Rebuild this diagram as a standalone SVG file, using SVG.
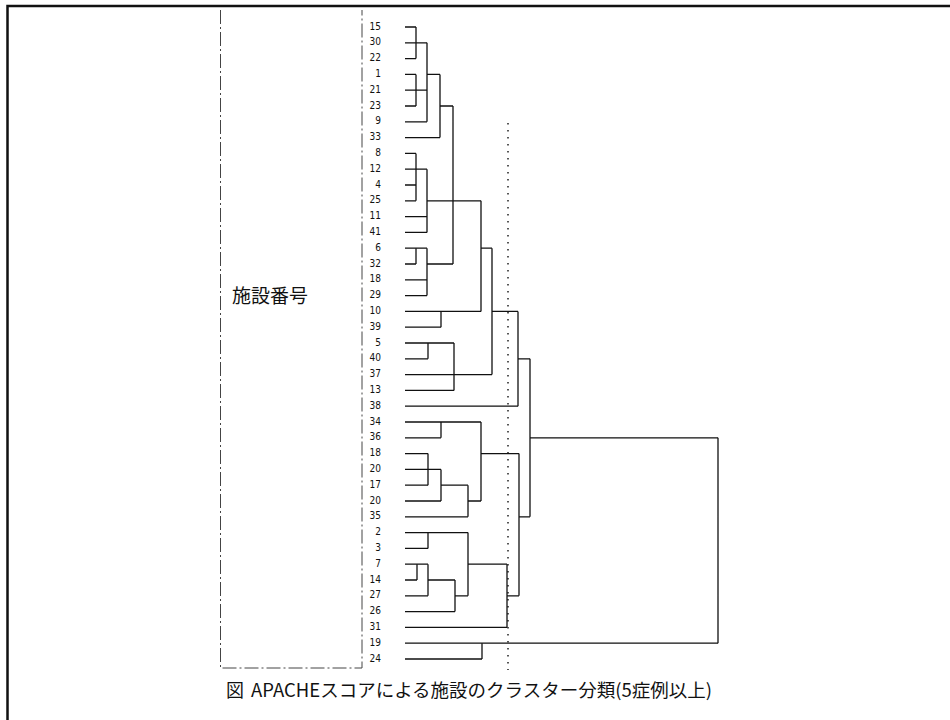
<svg xmlns="http://www.w3.org/2000/svg" width="950" height="720" viewBox="0 0 950 720">
<style>
.lbl{font-family:"DejaVu Sans Condensed","DejaVu Sans",sans-serif;font-size:10px;fill:#111;text-anchor:end}
.tr{fill:none;stroke:#111;stroke-width:1.3}
.cap{font-family:"Noto Sans CJK JP","Noto Sans",sans-serif;fill:#111}
</style>
<rect width="950" height="720" fill="#fff"/>
<path d="M7.5,720 V6 H950" fill="none" stroke="#111" stroke-width="2.5"/>
<path d="M220.5,10 V668 H362 V10" fill="none" stroke="#444" stroke-width="1" stroke-dasharray="14 3 2 3"/>
<text class="cap" x="232" y="303" font-size="19">施設番号</text>
<g id="leaves">
<g id="n15"><text class="lbl" x="381" y="29.5">15</text></g>
<g id="n30"><text class="lbl" x="381" y="45.3">30</text></g>
<g id="n22"><text class="lbl" x="381" y="61.1">22</text></g>
<g id="n1"><text class="lbl" x="381" y="76.9">1</text></g>
<g id="n21"><text class="lbl" x="381" y="92.7">21</text></g>
<g id="n23"><text class="lbl" x="381" y="108.5">23</text></g>
<g id="n9"><text class="lbl" x="381" y="124.3">9</text></g>
<g id="n33"><text class="lbl" x="381" y="140.1">33</text></g>
<g id="n8"><text class="lbl" x="381" y="155.9">8</text></g>
<g id="n12"><text class="lbl" x="381" y="171.7">12</text></g>
<g id="n4"><text class="lbl" x="381" y="187.5">4</text></g>
<g id="n25"><text class="lbl" x="381" y="203.3">25</text></g>
<g id="n11"><text class="lbl" x="381" y="219.1">11</text></g>
<g id="n41"><text class="lbl" x="381" y="234.9">41</text></g>
<g id="n6"><text class="lbl" x="381" y="250.7">6</text></g>
<g id="n32"><text class="lbl" x="381" y="266.5">32</text></g>
<g id="n18a"><text class="lbl" x="381" y="282.3">18</text></g>
<g id="n29"><text class="lbl" x="381" y="298.1">29</text></g>
<g id="n10"><text class="lbl" x="381" y="313.9">10</text></g>
<g id="n39"><text class="lbl" x="381" y="329.7">39</text></g>
<g id="n5"><text class="lbl" x="381" y="345.5">5</text></g>
<g id="n40"><text class="lbl" x="381" y="361.3">40</text></g>
<g id="n37"><text class="lbl" x="381" y="377.1">37</text></g>
<g id="n13"><text class="lbl" x="381" y="392.9">13</text></g>
<g id="n38"><text class="lbl" x="381" y="408.7">38</text></g>
<g id="n34"><text class="lbl" x="381" y="424.5">34</text></g>
<g id="n36"><text class="lbl" x="381" y="440.3">36</text></g>
<g id="n18b"><text class="lbl" x="381" y="456.1">18</text></g>
<g id="n20a"><text class="lbl" x="381" y="471.9">20</text></g>
<g id="n17"><text class="lbl" x="381" y="487.7">17</text></g>
<g id="n20b"><text class="lbl" x="381" y="503.5">20</text></g>
<g id="n35"><text class="lbl" x="381" y="519.3">35</text></g>
<g id="n2"><text class="lbl" x="381" y="535.1">2</text></g>
<g id="n3"><text class="lbl" x="381" y="550.9">3</text></g>
<g id="n7"><text class="lbl" x="381" y="566.7">7</text></g>
<g id="n14"><text class="lbl" x="381" y="582.5">14</text></g>
<g id="n27"><text class="lbl" x="381" y="598.3">27</text></g>
<g id="n26"><text class="lbl" x="381" y="614.1">26</text></g>
<g id="n31"><text class="lbl" x="381" y="629.9">31</text></g>
<g id="n19"><text class="lbl" x="381" y="645.7">19</text></g>
<g id="n24"><text class="lbl" x="381" y="661.5">24</text></g>
</g>
<g id="connectors">
<path class="tr" d="M405,27H416 M405,42.8H427 M405,58.6H416 M405,74.4H416 M405,90.2H427 M405,106H416 M405,121.8H427 M405,137.6H440 M405,153.4H416 M405,169.2H427 M405,185H416 M405,200.8H416 M427,200.8H481 M405,216.6H427 M405,232.4H427 M405,248.2H427 M405,264H416 M427,264H453 M405,279.8H427 M405,295.6H427 M405,311.4H481 M492,311.4H518 M405,327.2H441 M405,343H454 M405,358.8H428 M518,358.8H530 M405,374.6H492 M405,390.4H454 M405,406.2H518 M405,422H481 M405,437.8H441 M530,437.8H718 M405,453.6H428 M481,453.6H519 M405,469.4H441 M405,485.2H428 M441,485.2H468 M405,501H441 M468,501H481 M405,516.8H468 M519,516.8H530 M405,532.6H468 M405,548.4H428 M405,564.2H428 M468,564.2H507 M405,580H417 M428,580H455 M405,595.8H428 M455,595.8H468 M507,595.8H519 M405,611.6H455 M405,627.4H507 M405,643.2H718 M405,659H482 M427,74.4H440 M440,106H453 M481,248.2H492"/>
<path class="tr" d="M416,27V58.6 M416,74.4V106 M416,153.4V200.8 M416,248.2V264 M427,42.8V121.8 M427,169.2V232.4 M427,248.2V295.6 M440,74.4V137.6 M453,106V264 M481,200.8V311.4 M441,311.4V327.2 M428,343V358.8 M454,343V390.4 M492,248.2V374.6 M518,311.4V406.2 M441,422V437.8 M428,453.6V485.2 M441,469.4V501 M468,485.2V516.8 M481,422V501 M428,532.6V548.4 M417,564.2V580 M428,564.2V595.8 M455,580V611.6 M468,532.6V595.8 M507,564.2V627.4 M519,453.6V595.8 M530,358.8V516.8 M482,643.2V659 M718,437.8V643.2"/>
<path d="M508,123V670" fill="none" stroke="#111" stroke-width="1.4" stroke-dasharray="1.6 5.4"/>
</g>
<text class="cap" x="226" y="697" font-size="18">図</text>
<text class="cap" x="251" y="697" font-size="18" textLength="461" lengthAdjust="spacingAndGlyphs">APACHEスコアによる施設のクラスター分類(5症例以上)</text>
</svg>
